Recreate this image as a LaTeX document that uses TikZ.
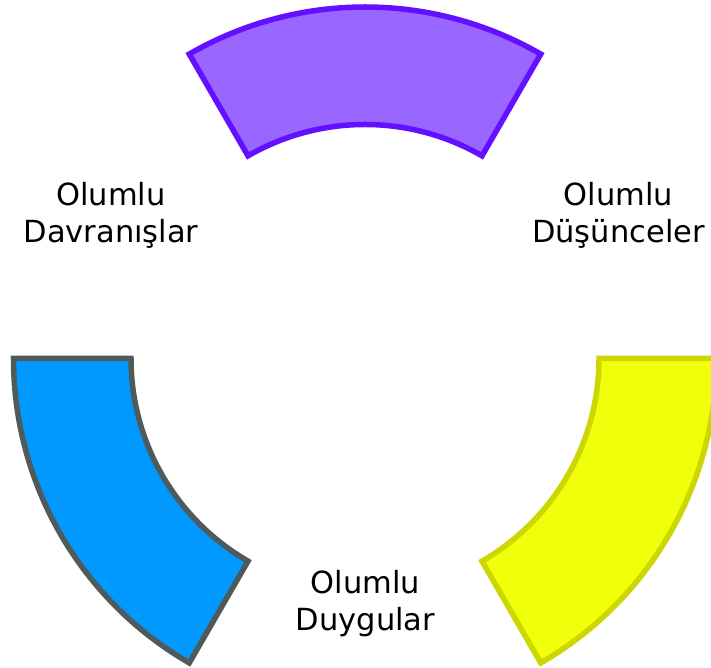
\documentclass[tikz,border=0pt]{standalone}
\usepackage{fontspec}
\setmainfont{DejaVu Sans}
\usetikzlibrary{calc}
\definecolor{purpfill}{RGB}{153,102,255}
\definecolor{purpline}{RGB}{98,16,255}
\definecolor{bluefill}{RGB}{0,153,255}
\definecolor{blueline}{RGB}{79,91,91}
\definecolor{yelfill}{RGB}{240,255,10}
\definecolor{yelline}{RGB}{204,214,0}
\tikzset{
  seg/.style={line width=5.5pt, line join=miter},
  lbl/.style={align=center, font=\fontsize{30.5}{37}\selectfont, inner sep=0pt}
}
\begin{document}
\begin{tikzpicture}[x=1pt,y=1pt]
\clip (0,0) rectangle (711,668);
\useasboundingbox (0,0) rectangle (711,668);
\coordinate (c) at (365,309.5);
\def\Ro{351.5}
\def\Ri{234}
% purple
\draw[seg, fill=purpfill, draw=purpline]
  ($(c)+(60:\Ro)$) arc[start angle=60, end angle=120, radius=\Ro]
  -- ($(c)+(120:\Ri)$) arc[start angle=120, end angle=60, radius=\Ri] -- cycle;
% blue
\draw[seg, fill=bluefill, draw=blueline]
  ($(c)+(180:\Ro)$) arc[start angle=180, end angle=240, radius=\Ro]
  -- ($(c)+(240:\Ri)$) arc[start angle=240, end angle=180, radius=\Ri] -- cycle;
% yellow
\draw[seg, fill=yelfill, draw=yelline]
  ($(c)+(300:\Ro)$) arc[start angle=300, end angle=360, radius=\Ro]
  -- ($(c)+(0:\Ri)$) arc[start angle=360, end angle=300, radius=\Ri] -- cycle;
\node[lbl] (davranis) at (111,453) {Olumlu\\Davranışlar};
\node[lbl] (dusunce) at (618.5,453) {Olumlu\\Düşünceler};
\node[lbl] (duygu) at (365.5,64) {Olumlu\\Duygular};
\end{tikzpicture}
\end{document}
